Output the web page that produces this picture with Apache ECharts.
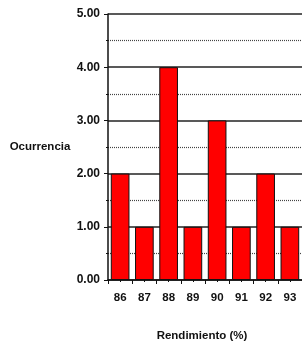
<!DOCTYPE html>
<html>
<head>
<meta charset="utf-8">
<script src="https://cdn.jsdelivr.net/npm/echarts@6/dist/echarts.min.js"></script>
<style>
  html, body { margin: 0; padding: 0; background: #fff; }
  #chart { width: 302px; height: 347px; }
</style>
</head>
<body>
<div id="chart"></div>
<script>
// rendimiento (%) y ocurrencia
const categories = ['86', '87', '88', '89', '90', '91', '92', '93'];
const ocurrencia = [2, 1, 4, 1, 3, 1, 2, 1];
const yTicks = [0, 1, 2, 3, 4, 5];

const font = '"Liberation Sans", Arial, sans-serif';
const myChart = echarts.init(document.getElementById('chart'));
myChart.setOption({
  animation: false,
  grid: {
    left: 108,
    right: -5,
    top: 14,
    bottom: 65
  },
  xAxis: [{
    type: 'category',
    data: categories,
    name: 'Rendimiento (%)',
    nameLocation: 'middle',
    nameGap: 50,
    nameTextStyle: {
      color: '#111',
      fontFamily: font,
      fontWeight: 'bold',
      fontSize: 11.5,
      padding: [0, 6, 0, 0]
    },
    axisLine: { lineStyle: { color: '#111', width: 1.5 } },
    axisTick: { show: true, length: 4, lineStyle: { color: '#111' } },
    axisLabel: {
      color: '#111',
      fontFamily: font,
      fontWeight: 'bold',
      fontSize: 11.5,
      margin: 12
    }
  }, {
    // ticks cortos en el centro de cada barra
    type: 'category',
    data: categories,
    position: 'bottom',
    axisLine: { show: false },
    axisTick: { show: true, alignWithLabel: true, length: 2, lineStyle: { color: '#111' } },
    axisLabel: { show: false },
    splitLine: { show: false }
  }],
  yAxis: {
    type: 'value',
    min: yTicks[0],
    max: yTicks[yTicks.length - 1],
    interval: 1,
    name: 'Ocurrencia',
    nameLocation: 'middle',
    nameRotate: 0,
    nameGap: 68,
    nameTextStyle: {
      align: 'center',
      color: '#111',
      fontFamily: font,
      fontWeight: 'bold',
      fontSize: 11.5
    },
    axisLine: { show: true, lineStyle: { color: '#111', width: 1.5 } },
    axisTick: { show: true, length: 4, lineStyle: { color: '#111' } },
    minorTick: { show: true, splitNumber: 2, length: 2, lineStyle: { color: '#111' } },
    axisLabel: {
      color: '#111',
      fontFamily: font,
      fontWeight: 'bold',
      fontSize: 12,
      margin: 8,
      formatter: v => v.toFixed(2)
    },
    splitLine: { show: true, lineStyle: { color: '#222', width: 1.5 } },
    minorSplitLine: { show: true, lineStyle: { color: '#444', type: [1, 1], width: 1.2 } }
  },
  series: [{
    type: 'bar',
    data: ocurrencia,
    barCategoryGap: '23%',
    itemStyle: {
      color: '#ff0000',
      borderColor: '#111',
      borderWidth: 1
    }
  }]
});
</script>
</body>
</html>
